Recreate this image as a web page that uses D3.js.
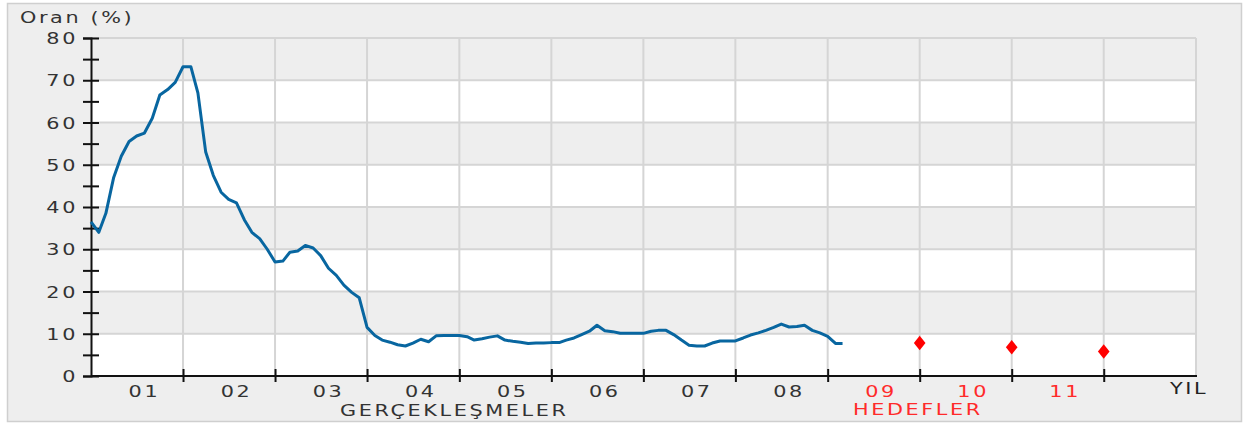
<!DOCTYPE html>
<html>
<head>
<meta charset="utf-8">
<script src="https://cdn.jsdelivr.net/npm/d3@7"></script>
<style>
  body { margin: 0; background: #fff; }
  svg text { font-family: "DejaVu Sans", Verdana, sans-serif; }
</style>
</head>
<body>
<svg id="main-svg" width="1244" height="423"></svg>
<script>
// monthly annual CPI change, starting Jan 2001
const startMonth = new Date(2001, 0, 1);
const inflation = [
  36.5, 34.0, 38.5, 47.0, 52.0, 55.5, 56.8, 57.5, 61.0, 66.5, 67.8, 69.5, // 2001
  73.2, 73.2, 67.0, 53.0, 47.5, 43.5, 41.8, 41.0, 37.0, 34.0, 32.5, 30.0, // 2002
  27.0, 27.2, 29.3, 29.6, 30.9, 30.3, 28.5, 25.5, 23.8, 21.5, 19.8, 18.5, // 2003
  11.5, 9.6, 8.5, 8.0, 7.4, 7.1, 7.8, 8.7, 8.1, 9.5, 9.6, 9.6,            // 2004
  9.6, 9.3, 8.5, 8.8, 9.2, 9.5, 8.5, 8.2, 8.0, 7.7, 7.8, 7.8,             // 2005
  7.9, 7.9, 8.5, 9.0, 9.8, 10.6, 12.0, 10.7, 10.5, 10.1, 10.1, 10.1,      // 2006
  10.1, 10.6, 10.8, 10.8, 9.8, 8.5, 7.3, 7.1, 7.1, 7.8, 8.3, 8.3,         // 2007
  8.3, 9.0, 9.7, 10.2, 10.8, 11.5, 12.3, 11.6, 11.7, 12.0, 10.8, 10.2,   // 2008
  9.4, 7.7, 7.7                                                          // 2009
];

const targetYears = [2009, 2010, 2011];
const targets = [7.8, 6.8, 5.8];

const actualYears = ["01", "02", "03", "04", "05", "06", "07", "08"];
const targetLabels = ["09", "10", "11"];

const yTicks = d3.range(0, 81, 5);
const yLabels = [0, 10, 20, 30, 40, 50, 60, 70, 80];

const svg = d3.select("#main-svg");
const padL = 91, padR = 1196, padT = 38, padB = 376;
const TEXT_SX = 1.3;

// outer panel
svg.append("rect")
  .attr("x", 7.5).attr("y", 3.5)
  .attr("width", 1234).attr("height", 418)
  .attr("fill", "#eeeeee")
  .attr("stroke", "#cfcfcf")
  .attr("stroke-width", 1.5);

const x = d3.scaleTime()
  .domain([new Date(2001, 0, 1), new Date(2013, 0, 1)])
  .range([padL, padR]);
const y = d3.scaleLinear().domain([0, 80]).range([padB, padT]);

// bands
svg.append("g").selectAll("rect")
  .data(d3.range(0, 80, 10))
  .join("rect")
  .attr("x", padL).attr("width", padR - padL)
  .attr("y", d => y(d + 10)).attr("height", d => y(d) - y(d + 10))
  .attr("fill", d => (d / 10) % 2 === 0 ? "#ffffff" : "#eeeeee");

// grid
const yearBounds = d3.range(2002, 2014).map(yr => new Date(yr, 0, 1));
const grid = svg.append("g").attr("stroke", "#d5d5d5").attr("stroke-width", 2);
grid.selectAll(".gx").data(yearBounds).join("line")
  .attr("x1", d => x(d)).attr("x2", d => x(d))
  .attr("y1", padT).attr("y2", padB);
grid.selectAll(".gy").data(d3.range(10, 81, 10)).join("line")
  .attr("x1", padL).attr("x2", padR)
  .attr("y1", d => y(d)).attr("y2", d => y(d));

// text helper: glyphs in the original are wide and spaced
function label(g, tx, ty, str, anchor, color) {
  g.append("g")
    .attr("transform", `translate(${tx},${ty}) scale(${TEXT_SX},1)`)
    .append("text")
    .attr("text-anchor", anchor)
    .attr("font-size", 16)
    .attr("letter-spacing", 2)
    .attr("fill", color)
    .text(str);
}

// y axis
const yAxis = svg.append("g")
  .attr("transform", `translate(${padL},0)`)
  .call(d3.axisLeft(y).tickValues(yTicks).tickSize(8).tickFormat(""));
yAxis.select(".domain").attr("stroke", "#111").attr("stroke-width", 2);
yAxis.selectAll(".tick line").attr("x1", 8).attr("x2", -8)
  .attr("stroke", "#111").attr("stroke-width", 2);
yLabels.forEach(v => label(svg, padL - 13, y(v) + 6, String(v), "end", "#333"));

// x axis
const xAxis = svg.append("g")
  .attr("transform", `translate(0,${padB})`)
  .call(d3.axisBottom(x).tickValues(yearBounds.slice(0, 11)).tickSize(6).tickFormat(""));
xAxis.select(".domain").attr("stroke", "#111").attr("stroke-width", 2).attr("d", `M${padL},0H${padR + 1}`);
xAxis.selectAll(".tick line").attr("y1", -7).attr("y2", 6)
  .attr("stroke", "#111").attr("stroke-width", 2);

actualYears.forEach((lab, i) => {
  label(svg, x(new Date(2001 + i, 7, 1)), padB + 21, lab, "middle", "#333");
});
targetLabels.forEach((lab, i) => {
  label(svg, x(new Date(2009 + i, 7, 1)), padB + 21, lab, "middle", "#ff2a2a");
});
label(svg, 1170, padB + 18, "YIL", "start", "#222");
label(svg, 340, 416, "GERÇEKLEŞMELER", "start", "#333");
label(svg, 853, 415, "HEDEFLER", "start", "#ff2a2a");
label(svg, 20, 23, "Oran (%)", "start", "#333");

// actual line
const line = d3.line()
  .x((d, i) => x(d3.timeMonth.offset(startMonth, i)))
  .y(d => y(d));
svg.append("path")
  .datum(inflation)
  .attr("d", line)
  .attr("fill", "none")
  .attr("stroke", "#0866a0")
  .attr("stroke-width", 3)
  .attr("stroke-linejoin", "round");

// targets
svg.append("g").selectAll("path")
  .data(targets)
  .join("path")
  .attr("transform", (d, i) => `translate(${x(new Date(targetYears[i] + 1, 0, 1))},${y(d)}) scale(1.4,1)`)
  .attr("d", d3.symbol(d3.symbolDiamond, 60))
  .attr("fill", "#ff0000");
</script>
</body>
</html>
